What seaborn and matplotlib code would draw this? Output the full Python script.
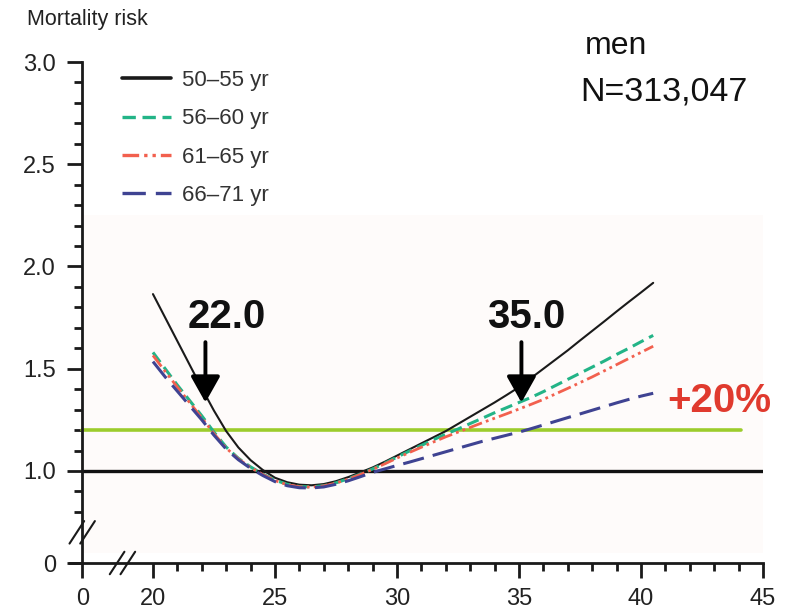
import matplotlib
matplotlib.use("Agg")
import matplotlib.pyplot as plt
import seaborn as sns
import numpy as np
import pandas as pd
from matplotlib.lines import Line2D

# ---------------- data ----------------
bmi = [20, 20.5, 21, 21.5, 22, 22.5, 23, 23.5, 24, 24.5, 25, 25.5, 26, 26.5, 27, 27.5, 28, 28.5,
       29, 29.5, 30, 30.5, 31, 31.5, 32, 32.5, 33, 33.5, 34, 34.5, 35, 35.5, 36, 36.5, 37, 37.5,
       38, 38.5, 39, 39.5, 40, 40.5]
risk_50_55 = [1.865, 1.75, 1.635, 1.52, 1.405, 1.295, 1.195, 1.115, 1.053, 1.005, 0.967, 0.945, 0.933, 0.93,
              0.936, 0.95, 0.97, 0.993, 1.017, 1.045, 1.075, 1.105, 1.135, 1.165, 1.195, 1.23, 1.265,
              1.30, 1.335, 1.372, 1.41, 1.455, 1.50, 1.545, 1.59, 1.638, 1.685, 1.732, 1.78, 1.827,
              1.873, 1.92]
risk_56_60 = [1.58, 1.50, 1.42, 1.345, 1.27, 1.19, 1.117, 1.062, 1.02, 0.985, 0.955, 0.935, 0.924, 0.922,
              0.928, 0.942, 0.962, 0.985, 1.01, 1.038, 1.068, 1.097, 1.125, 1.153, 1.18, 1.205, 1.232,
              1.258, 1.285, 1.31, 1.335, 1.36, 1.388, 1.418, 1.448, 1.478, 1.508, 1.538, 1.57, 1.60,
              1.632, 1.663]
risk_61_65 = [1.565, 1.487, 1.41, 1.335, 1.26, 1.183, 1.112, 1.059, 1.017, 0.983, 0.953, 0.933, 0.923,
              0.921, 0.927, 0.941, 0.96, 0.983, 1.008, 1.035, 1.063, 1.09, 1.116, 1.142, 1.167, 1.19,
              1.213, 1.236, 1.258, 1.28, 1.303, 1.326, 1.35, 1.377, 1.404, 1.432, 1.46, 1.49, 1.52,
              1.55, 1.58, 1.61]
risk_66_71 = [1.535, 1.46, 1.39, 1.32, 1.25, 1.175, 1.107, 1.055, 1.013, 0.978, 0.948, 0.928, 0.918,
              0.917, 0.922, 0.935, 0.952, 0.972, 0.993, 1.01, 1.027, 1.043, 1.06, 1.077, 1.094, 1.111,
              1.128, 1.145, 1.16, 1.175, 1.19, 1.207, 1.225, 1.243, 1.261, 1.279, 1.297, 1.315, 1.333,
              1.35, 1.366, 1.38]
age_groups = ["50\u201355 yr", "56\u201360 yr", "61\u201365 yr", "66\u201371 yr"]

reference_level = 1.0
threshold_level = 1.2
cutoff_x = [22.15, 35.1]
cutoff_labels = ["22.0", "35.0"]
y_major = [1.0, 1.5, 2.0, 2.5, 3.0]
x_major = [20, 25, 30, 35, 40, 45]

# ---------------- style ----------------
sns.set_theme(style="white")
plt.rcParams['font.family'] = ['Liberation Sans', 'DejaVu Sans']

colors = ["#1a1a1a", "#23b487", "#f2604e", "#3f4392"]
dashes = [(None, None), (4, 2), (5, 1.5, 1, 1.5, 1, 1.5), (7, 3)]
widths = [1.5, 2.2, 2.0, 2.2]

W, H = 790, 610
fig = plt.figure(figsize=(W / 100, H / 100), dpi=100)
# axes box in pixels: left 70, right 763, top 62, bottom 563
ax = fig.add_axes([70 / W, 1 - 563 / H, (763 - 70) / W, (563 - 62) / H])

X_ZERO = 17.1   # position of broken-axis "0" on x
Y_ZERO = 0.55   # position of broken-axis "0" on y
ax.set_xlim(16.6, 45.0)
ax.set_ylim(Y_ZERO, 3.0)

# faint shaded background
ax.axhspan(0.60, 2.25, xmin=(X_ZERO - 16.6) / (45 - 16.6), xmax=1, color="#fefbfa", zorder=0, lw=0)

# reference lines
ax.plot([X_ZERO, 45], [reference_level, reference_level], color="#111111", lw=2.4, zorder=2)
ax.plot([X_ZERO, 44.1], [threshold_level, threshold_level], color="#9ccc2c", lw=2.6, zorder=2)

series = [risk_50_55, risk_56_60, risk_61_65, risk_66_71]
df = pd.DataFrame({
    "bmi": bmi * 4,
    "risk": sum(series, []),
    "age": sum([[g] * len(bmi) for g in age_groups], []),
})
for g, c, d, w in zip(age_groups, colors, dashes, widths):
    sub = df[df["age"] == g]
    sns.lineplot(data=sub, x="bmi", y="risk", ax=ax, color=c, lw=w, sort=False,
                 legend=False, zorder=3)
    ln = ax.get_lines()[-1]
    if d[0] is not None:
        ln.set_dashes(d)

# spines
for s in ["top", "right"]:
    ax.spines[s].set_visible(False)
ax.spines["left"].set_position(("data", X_ZERO))
ax.spines["left"].set_linewidth(2.0)
ax.spines["bottom"].set_linewidth(2.0)
ax.spines["left"].set_color("#1a1a1a")
ax.spines["bottom"].set_color("#1a1a1a")

# ticks
ax.set_xticks([X_ZERO] + x_major)
ax.set_xticklabels(["0"] + [str(v) for v in x_major])
ax.set_xticks(list(range(21, 45)), minor=True)
ax.set_yticks([Y_ZERO] + y_major)
ax.set_yticklabels(["0"] + [f"{v:.1f}" for v in y_major])
ax.set_yticks([round(0.8 + 0.1 * i, 2) for i in range(22) if round(0.8 + 0.1 * i, 2) not in y_major], minor=True)
ax.tick_params(axis="both", which="major", direction="out", length=11, width=2, color="#1a1a1a",
               bottom=True, left=True, colors="#1a1a1a")
ax.tick_params(axis="both", which="minor", direction="out", length=6, width=2, color="#1a1a1a",
               bottom=True, left=True)
ax.tick_params(axis="x", labelsize=17, pad=7, labelcolor="#222222")
ax.tick_params(axis="y", labelsize=17, pad=8, labelcolor="#222222")
ax.set_xlabel("")
ax.set_ylabel("")

# axis break marks
for (cx, cy) in [(X_ZERO, 0.70), (18.75, Y_ZERO)]:
    for off in (-0.22, 0.22):
        ax.plot([cx + off - 0.3, cx + off + 0.3], [cy - 0.055, cy + 0.055], color="#1a1a1a",
                lw=1.5, clip_on=False, zorder=5)

# arrows and labels
label_x = [23.02, 35.3]
for xv, lx, lab in zip(cutoff_x, label_x, cutoff_labels):
    ax.annotate("", xy=(xv, 1.335), xytext=(xv, 1.63),
                arrowprops=dict(arrowstyle="-|>,head_length=0.8,head_width=0.45",
                                mutation_scale=20, lw=2.8, color="black",
                                shrinkA=0, shrinkB=0), zorder=6)
    ax.text(lx, 1.755, lab, fontsize=29, fontweight="bold", ha="center", va="center",
            color="#111111", zorder=6)
ax.text(43.2, 1.34, "+20%", fontsize=29, fontweight="bold", color="#e03a2e",
        ha="center", va="center", zorder=6)

# legend
handles = []
for g, c, d, w in zip(age_groups, colors, dashes, widths):
    h = Line2D([0], [0], color=c, lw=2.6 if d[0] is None else 2.4)
    if d[0] is not None:
        h.set_dashes(d)
    handles.append(h)
leg = ax.legend(handles, age_groups, loc="upper left", bbox_to_anchor=(0.075, 0.984),
                frameon=False, handlelength=2.2, handletextpad=0.5, labelspacing=0.78,
                borderpad=0, borderaxespad=0,
                prop={"family": ["Liberation Sans Narrow", "Liberation Sans"], "size": 16})
for t in leg.get_texts():
    t.set_color("#333333")

# texts
fig.text(27 / W, 1 - 20 / H, "Mortality risk", fontsize=15.5, ha="left", va="center", color="#222222")
fig.text(585 / W, 1 - 46 / H, "men", fontsize=23, ha="left", va="center", color="#111111")
fig.text(580 / W, 1 - 92 / H, "N=313,047", fontsize=24.5, ha="left", va="center", color="#111111")

fig.savefig("out.png", dpi=100)
